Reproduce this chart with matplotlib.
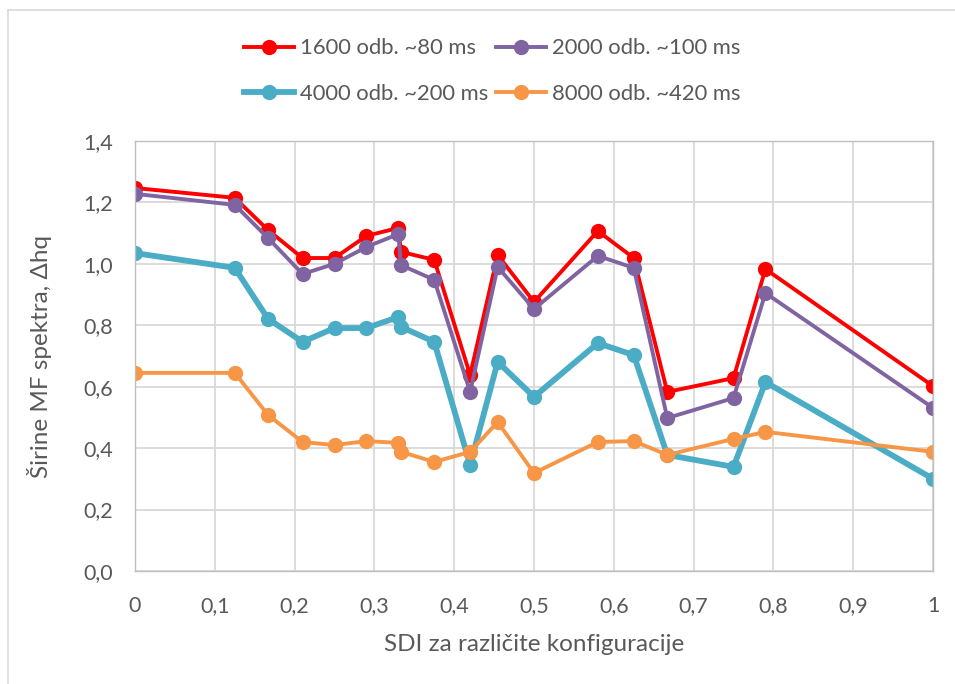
import matplotlib
matplotlib.use("Agg")
import matplotlib.pyplot as plt
from matplotlib.lines import Line2D
from matplotlib.ticker import FuncFormatter

plt.rcParams['font.family'] = ['Lato', 'DejaVu Sans']

sdi = [0, 0.125, 0.1667, 0.21, 0.25, 0.29, 0.33, 0.3333, 0.375, 0.42, 0.4545,
       0.5, 0.58, 0.625, 0.667, 0.75, 0.79, 1.0]

s1600 = [1.247, 1.215, 1.110, 1.019, 1.019, 1.091, 1.117, 1.039, 1.013, 0.638,
         1.029, 0.876, 1.107, 1.019, 0.583, 0.628, 0.983, 0.602]
s2000 = [1.228, 1.192, 1.084, 0.967, 1.000, 1.055, 1.097, 0.996, 0.948, 0.583,
         0.990, 0.853, 1.026, 0.987, 0.498, 0.563, 0.905, 0.531]
s4000 = [1.035, 0.987, 0.821, 0.746, 0.791, 0.791, 0.827, 0.795, 0.746, 0.345,
         0.681, 0.567, 0.742, 0.703, 0.378, 0.339, 0.615, 0.300]
s8000 = [0.645, 0.645, 0.508, 0.420, 0.410, 0.423, 0.417, 0.388, 0.355, 0.388,
         0.485, 0.319, 0.420, 0.423, 0.378, 0.430, 0.453, 0.388]

labels = ["1600 odb. ~80 ms", "2000 odb. ~100 ms", "4000 odb. ~200 ms", "8000 odb. ~420 ms"]
colors = ["#FF0000", "#8064A2", "#4BACC6", "#F79646"]
widths = [2.8, 2.8, 4.2, 2.8]

W, H = 955, 684
fig = plt.figure(figsize=(W/100, H/100), dpi=100)
ax = fig.add_axes([135/W, 1-571/H, (933-135)/W, (571-141)/H])

series = [s1600, s2000, s4000, s8000]
handles = []
for ys, c, lw, lab in zip(series, colors, widths, labels):
    h, = ax.plot(sdi, ys, color=c, lw=lw, marker='o', markersize=11,
                 markeredgewidth=0, label=lab, solid_joinstyle='round')
    handles.append(h)

ax.set_xlim(0, 1)
ax.set_ylim(0, 1.4)
ax.set_xticks([i/10 for i in range(11)])
ax.set_yticks([i/5 for i in range(8)])
ax.xaxis.set_major_formatter(FuncFormatter(lambda v, p: ("%g" % round(v, 1)).replace('.', ',')))
ax.yaxis.set_major_formatter(FuncFormatter(lambda v, p: ("%.1f" % v).replace('.', ',')))
ax.grid(True, color='#D9D9D9', lw=1.3)
ax.set_axisbelow(True)
for sp in ax.spines.values():
    sp.set_color('#BFBFBF')
    sp.set_linewidth(1.0)
ax.tick_params(length=0, labelsize=15.5, colors='#595959')
ax.tick_params(axis='x', pad=18)
ax.tick_params(axis='y', pad=16)
ax.set_xlabel("SDI za različite konfiguracije", fontsize=17.5, color='#595959', labelpad=13)
ax.set_ylabel("Širine MF spektra, Δhq", fontsize=17.5, color='#595959', labelpad=22)

order = [0, 2, 1, 3]
fig.legend(handles=[handles[i] for i in order], loc='center', bbox_to_anchor=(492/W, 1-71/H), ncol=2,
           frameon=False, fontsize=15.8, labelcolor='#595959', handlelength=2.3,
           handletextpad=0.25, columnspacing=0.35, labelspacing=1.15)

fig.add_artist(Line2D([8/W, 8/W], [0, 1-10/H], color='#D9D9D9', lw=1.2, transform=fig.transFigure))
fig.add_artist(Line2D([8/W, 1], [1-10/H, 1-10/H], color='#D9D9D9', lw=1.2, transform=fig.transFigure))

fig.savefig("out.png", dpi=100)
